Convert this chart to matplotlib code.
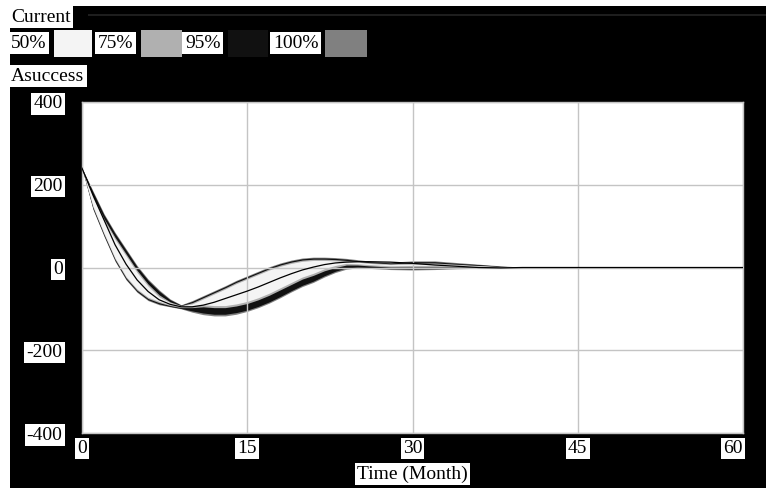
import matplotlib
matplotlib.use("Agg")
import matplotlib.pyplot as plt
from matplotlib.patches import Rectangle

# ---- data ----
time = [0, 1, 2, 3, 4, 5, 6, 7, 8, 9, 10, 11, 12, 13, 14, 15, 16, 17, 18, 19, 20,
        21, 22, 23, 24, 25, 26, 28, 30, 32, 34, 36, 38, 40, 45, 50, 55, 60]

current = [240, 175, 115, 55, 8, -30, -58, -78, -89, -95, -95, -91, -84, -75, -66, -57, -47, -36, -25, -15, -6,
           1, 7, 11, 13, 14, 14, 13, 10, 6, 3, 0, -1, 0, 0, 0, 0, 0]

hi100 = [240, 185, 130, 85, 45, 5, -28, -54, -76, -90, -80, -68, -56, -44, -31, -20, -9, 2, 11, 18, 23,
         25, 25, 24, 22, 19, 16, 13, 16, 16, 12, 8, 4, 1, 1, 1, 0, 0]
hi95 = [240, 182, 127, 82, 42, 2, -31, -57, -78, -91, -82, -70, -58, -46, -33, -22, -11, 0, 9, 16, 21,
        23, 23, 22, 20, 17, 14, 11, 14, 14, 10, 7, 3, 1, 1, 1, 0, 0]
hi75 = [240, 173, 118, 73, 33, -7, -40, -66, -83, -92, -85, -73, -61, -49, -36, -25, -14, -3, 6, 13, 18,
        20, 20, 19, 17, 15, 12, 9, 11, 11, 8, 5, 2, 1, 0, 0, 0, 0]
hi50 = [240, 168, 113, 68, 28, -12, -45, -71, -85, -93, -88, -76, -64, -52, -39, -28, -17, -6, 3, 10, 15,
        17, 17, 16, 14, 13, 10, 7, 8, 8, 6, 4, 2, 0, 0, 0, 0, 0]
lo50 = [240, 148, 83, 23, -22, -52, -72, -82, -90, -95, -93, -90, -92, -92, -88, -82, -73, -62, -49, -36, -23,
        -14, -3, 5, 10, 9, 7, 4, 5, 5, 3, 2, 1, 0, 0, 0, 0, 0]
lo75 = [240, 145, 80, 20, -25, -55, -75, -85, -92, -97, -97, -95, -97, -97, -93, -87, -78, -67, -54, -41, -28,
        -19, -8, 0, 6, 6, 4, 1, 1, 1, 1, 1, 1, 0, 0, 0, 0, 0]
lo95 = [240, 142, 77, 17, -28, -58, -78, -88, -94, -99, -105, -110, -113, -113, -109, -103, -94, -83, -70, -56, -43,
        -33, -20, -9, -1, 1, 0, -3, -4, -3, -2, -1, 0, 0, -1, -1, -1, 0]
lo100 = [240, 140, 75, 15, -30, -60, -80, -90, -95, -100, -108, -114, -117, -117, -113, -106, -97, -86, -73, -59, -46,
         -36, -23, -12, -4, -1, -2, -5, -6, -5, -3, -2, -1, 0, -2, -2, -1, 0]

band_labels = ["50%", "75%", "95%", "100%"]
band_colors = ["#f4f4f4", "#b0b0b0", "#111111", "#808080"]
xticks = [0, 15, 30, 45, 60]
yticks = [-400, -200, 0, 200, 400]
series_label = "Current"
var_label = "Asuccess"
xlabel = "Time (Month)"

# ---- figure ----
W, H = 766, 488
fig = plt.figure(figsize=(W / 100, H / 100), dpi=100, facecolor="white")
FONT = "Liberation Serif"
FS = 14


def px(x, y, w, h):
    """pixel box (top-left origin) -> figure fraction rect"""
    return (x / W, 1 - (y + h) / H, w / W, h / H)


def rect(x, y, w, h, color, z):
    l, b, ww, hh = px(x, y, w, h)
    fig.patches.append(Rectangle((l, b), ww, hh, transform=fig.transFigure,
                                 facecolor=color, edgecolor="none", zorder=z))


# black background + white header corner
rect(10, 6, 756, 482, "black", -10)
rect(10, 6, 62, 22, "white", -9)
# thin dark line across the top
rect(88, 14, 678, 2, "#1e1e1e", -9)


def label(x, y, s, ha="left"):
    fig.text(x / W, 1 - y / H, s, fontsize=FS, family=FONT, ha=ha, va="center",
             color="black", zorder=5,
             bbox=dict(facecolor="white", edgecolor="none", pad=2.0))


label(11, 17, series_label)
# legend row
lab_x = [11, 98, 185, 273]
sw_x = [54, 141, 228, 325]
sw_w = [38, 41, 40, 42]
for lx, sx, sw, lab, col in zip(lab_x, sw_x, sw_w, band_labels, band_colors):
    label(lx, 43, lab)
    rect(sx, 30, sw, 27, col, -8)
label(11, 76, var_label)

# ---- axes ----
ax = fig.add_axes(px(82, 102, 661, 331))
ax.set_zorder(3)
ax.set_facecolor("white")
ax.fill_between(time, lo100, hi100, color=band_colors[3], linewidth=0, zorder=1)
ax.fill_between(time, lo95, hi95, color=band_colors[2], linewidth=0, zorder=1.1)
ax.fill_between(time, lo75, hi75, color=band_colors[1], linewidth=0, zorder=1.2)
ax.fill_between(time, lo50, hi50, color=band_colors[0], linewidth=0, zorder=1.3)
ax.plot(time, current, color="black", linewidth=0.9, zorder=3)

ax.set_xlim(0, 60)
ax.set_ylim(-400, 400)
ax.set_xticks(xticks)
ax.set_yticks(yticks)
ax.set_xticklabels([str(v) for v in xticks])
ax.set_yticklabels([str(v) for v in yticks])
ax.grid(True, color="#c4c4c4", linewidth=1.0, zorder=1.5)
ax.tick_params(length=0, labelsize=FS, colors="black")
ax.tick_params(axis="y", pad=14)
ax.tick_params(axis="x", pad=5)
for t in ax.get_xticklabels() + ax.get_yticklabels():
    t.set_family(FONT)
    t.set_bbox(dict(facecolor="white", edgecolor="none", pad=1.5))
xl = ax.get_xticklabels()
xl[-1].set_horizontalalignment("right")
for s in ax.spines.values():
    s.set_color("#c4c4c4")
    s.set_linewidth(1.0)

ax.set_xlabel(xlabel, fontsize=FS, family=FONT, color="black", labelpad=6,
              bbox=dict(facecolor="white", edgecolor="none", pad=1.5))

fig.savefig("out.png", dpi=100, facecolor="white")
